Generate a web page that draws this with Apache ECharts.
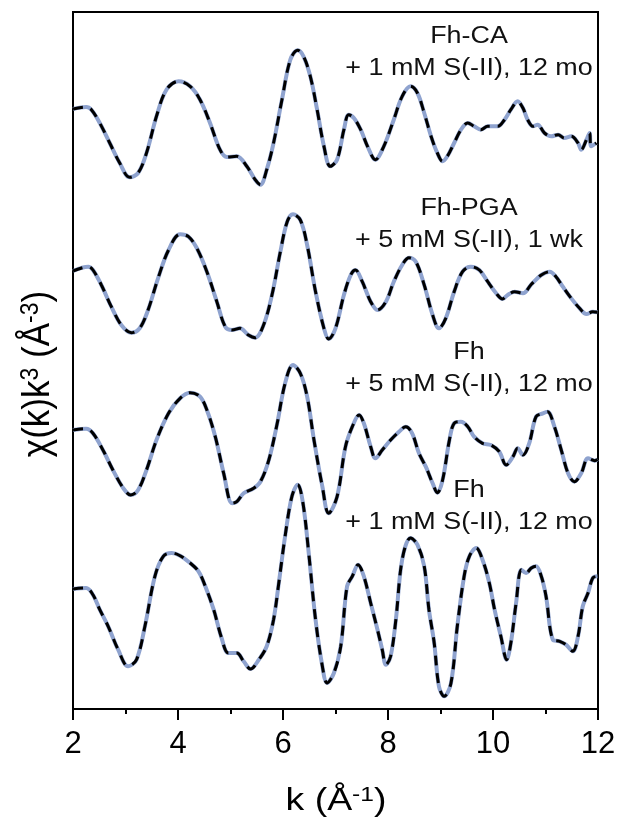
<!DOCTYPE html>
<html>
<head>
<meta charset="utf-8">
<script src="https://cdn.jsdelivr.net/npm/echarts@6/dist/echarts.min.js"></script>
<style>
html,body{margin:0;padding:0;background:#fff;}
#chart{width:619px;height:818px;}
</style>
</head>
<body>
<div id="chart"></div>
<script>
// ---- Data (k in Å^-1, chi(k)k^3 in arbitrary units, relative to each curve's own baseline) ----
const kFhCA = [2.00,2.25,2.35,2.51,2.70,2.89,3.08,3.24,3.40,3.59,3.78,4.01,4.23,4.42,4.61,4.80,4.93,5.12,5.31,5.47,5.57,5.69,5.82,5.98,6.14,6.28,6.39,6.52,6.65,6.78,6.90,7.03,7.16,7.25,7.35,7.48,7.61,7.76,7.92,8.11,8.27,8.43,8.56,8.69,8.82,8.94,9.04,9.13,9.26,9.39,9.52,9.64,9.77,9.90,10.09,10.22,10.34,10.47,10.57,10.66,10.76,10.85,10.98,11.11,11.24,11.36,11.49,11.62,11.68,11.78,11.84,11.87,11.97];
const chiFhCA = [0,0.2,-0.07,-1.4,-3.4,-5.4,-6.83,-6.4,-4.4,-0.73,1.93,2.77,2.27,0.93,-1.4,-4.07,-4.8,-4.73,-5.73,-7.07,-7.57,-6.07,-3.4,0.93,4.93,5.87,5.27,3.27,-0.07,-3.73,-5.73,-5.07,-2.07,-0.57,-0.9,-2.07,-3.73,-5.07,-3.73,-1.07,1.27,2.27,1.6,-0.4,-2.73,-4.4,-5.23,-4.73,-3.4,-2.07,-1.4,-1.73,-2.07,-1.73,-1.73,-1.07,-0.07,0.77,0.1,-1.07,-1.73,-1.57,-2.4,-2.73,-2.57,-2.9,-2.73,-3.4,-4.07,-3.07,-2.4,-3.73,-3.4];

const kFhPGA = [2.00,2.29,2.38,2.54,2.73,2.92,3.11,3.27,3.43,3.62,3.82,4.04,4.20,4.36,4.55,4.74,4.90,5.03,5.18,5.34,5.47,5.63,5.79,5.95,6.08,6.19,6.33,6.46,6.62,6.78,6.87,7.00,7.16,7.29,7.38,7.51,7.67,7.80,7.96,8.11,8.27,8.40,8.53,8.69,8.85,8.97,9.10,9.26,9.42,9.58,9.74,9.90,10.06,10.18,10.28,10.41,10.57,10.73,10.92,11.08,11.20,11.33,11.49,11.65,11.78,11.90,11.99];
const chiFhPGA = [0,0.43,0.1,-1.4,-3.57,-5.4,-6.17,-5.73,-3.9,-0.73,2.1,3.67,3.43,2.27,-0.07,-3.07,-5.57,-5.9,-5.73,-6.4,-6.67,-5.4,-2.4,1.93,4.93,5.67,5.1,2.6,-2.07,-5.73,-6.8,-5.73,-2.4,-0.4,0.1,-1.07,-3.07,-3.9,-3.07,-1.07,0.6,1.33,0.93,-1.4,-4.4,-5.73,-4.73,-2.07,-0.07,0.43,0.1,-1.07,-2.23,-2.8,-2.4,-2.07,-2.23,-1.33,-0.4,-0.07,-0.57,-1.57,-2.73,-3.73,-4.3,-4.07,-4.13];

const kFh5 = [2.00,2.25,2.38,2.57,2.76,2.96,3.10,3.24,3.40,3.59,3.82,4.04,4.23,4.42,4.55,4.71,4.87,5.03,5.12,5.25,5.44,5.57,5.73,5.89,6.04,6.19,6.33,6.46,6.59,6.75,6.87,7.03,7.19,7.32,7.45,7.54,7.67,7.76,7.89,8.05,8.21,8.34,8.46,8.59,8.72,8.85,8.94,9.04,9.17,9.26,9.39,9.52,9.64,9.80,9.96,10.12,10.25,10.38,10.47,10.57,10.69,10.82,10.95,11.04,11.17,11.30,11.43,11.55,11.68,11.81,11.94,11.99];
const chiFh5 = [0,0.13,-0.33,-2.0,-4.0,-5.83,-6.5,-6.0,-4.0,-1.0,1.67,3.17,3.73,3.33,2.0,-0.67,-4.33,-7.33,-7.17,-6.33,-5.83,-5.17,-3.0,0.67,4.67,6.5,5.67,3.33,-1.0,-5.67,-8.33,-6.67,-1.67,0.33,1.5,0.67,-1.67,-2.83,-2.0,-1.0,-0.17,0.33,-0.33,-2.33,-3.67,-5.33,-6.27,-5.0,-1.0,0.67,0.83,0.33,-0.67,-1.33,-1.5,-2.17,-3.5,-2.67,-1.83,-2.5,-1.33,1.33,1.67,1.83,0.33,-2.0,-4.33,-5.17,-4.33,-2.83,-3.07,-2.93];

const kFh1 = [2.00,2.25,2.38,2.51,2.67,2.86,3.05,3.21,3.37,3.56,3.72,3.88,4.04,4.23,4.39,4.52,4.68,4.83,4.96,5.12,5.25,5.38,5.54,5.69,5.82,5.92,6.04,6.17,6.28,6.38,6.49,6.62,6.75,6.84,6.97,7.10,7.22,7.32,7.43,7.54,7.67,7.80,7.89,7.96,8.05,8.15,8.27,8.43,8.56,8.69,8.78,8.88,8.97,9.07,9.20,9.32,9.45,9.55,9.68,9.80,9.93,10.03,10.15,10.26,10.34,10.44,10.54,10.63,10.73,10.82,10.92,11.01,11.14,11.27,11.39,11.52,11.62,11.71,11.81,11.90,11.99];
const chiFh1 = [0,0.1,-0.57,-2.07,-3.73,-6.07,-7.73,-7.07,-3.73,1.27,3.27,3.6,3.33,2.6,1.77,0.27,-2.07,-4.9,-6.4,-6.4,-7.23,-8.0,-7.07,-5.73,-3.07,0.6,5.27,9.27,10.43,8.6,3.6,-3.07,-7.73,-9.4,-8.4,-5.73,0.27,1.27,2.43,1.27,-1.4,-4.07,-6.07,-7.57,-6.73,-3.07,2.93,5.1,4.43,2.27,-2.07,-5.4,-9.73,-10.73,-9.4,-3.73,1.27,3.27,4.1,2.93,0.6,-2.07,-4.73,-7.07,-5.4,-1.4,1.93,1.6,2.1,2.27,1.27,-0.73,-5.07,-5.23,-5.57,-6.23,-4.73,-1.73,-0.4,1.1,1.27];

// vertical stacking offsets for each spectrum
const offsets = [48, 31.8, 15.9, 0];
const sampleNames = ['Fh-CA', 'Fh-PGA', 'Fh', 'Fh'];
const sampleConds = ['+ 1 mM S(-II), 12 mo', '+ 5 mM S(-II), 1 wk', '+ 5 mM S(-II), 12 mo', '+ 1 mM S(-II), 12 mo'];
const xTicks = [2, 4, 6, 8, 10, 12];

const curves = [
  [kFhCA, chiFhCA],
  [kFhPGA, chiFhPGA],
  [kFh5, chiFh5],
  [kFh1, chiFh1]
];

const FONT = 'Liberation Sans, Arial, sans-serif';
const chart = echarts.init(document.getElementById('chart'), null, {renderer: 'canvas'});

const series = [];
curves.forEach((c, i) => {
  const pts = c[0].map((k, j) => [k, c[1][j] + offsets[i]]);
  series.push({
    name: sampleNames[i] + ' fit', type: 'line', data: pts, showSymbol: false, smooth: 0.35,
    lineStyle: {color: '#8fa3cf', width: 4}, z: 2, silent: true
  });
  series.push({
    name: sampleNames[i] + ' data', type: 'line', data: pts, showSymbol: false, smooth: 0.35,
    lineStyle: {color: '#000', width: 3, type: [10, 8]}, z: 3, silent: true
  });
});

const labelY = [52.5, 224.5, 368.5, 506.5];
const graphics = sampleNames.map((n, i) => ({
  type: 'text', x: 469, y: labelY[i], z: 10, scaleX: 1.17,
  style: {
    text: n + '\n' + sampleConds[i],
    fontFamily: FONT, fontSize: 23, lineHeight: 32,
    fill: '#111', textAlign: 'center', textVerticalAlign: 'middle'
  }
}));
// x-axis title
graphics.push({
  type: 'text', x: 336, y: 801, z: 10, scaleX: 1.17,
  style: {
    text: '{a|k (Å}{s|-1}{a|)}',
    textAlign: 'center', textVerticalAlign: 'middle',
    rich: {
      a: {fontSize: 32, fill: '#000', fontFamily: FONT, verticalAlign: 'bottom'},
      s: {fontSize: 21, fill: '#000', fontFamily: FONT, verticalAlign: 'top'}
    }
  }
});
// y-axis title (rotated)
graphics.push({
  type: 'text', x: 38, y: 374, z: 10, rotation: Math.PI / 2, scaleY: 1.1,
  style: {
    text: '{a|χ(k)k}{s|3}{a| (Å}{s|-3}{a|)}',
    textAlign: 'center', textVerticalAlign: 'middle',
    rich: {
      a: {fontSize: 35, fill: '#000', fontFamily: FONT, verticalAlign: 'bottom'},
      s: {fontSize: 23, fill: '#000', fontFamily: FONT, verticalAlign: 'top'}
    }
  }
});

chart.setOption({
  animation: false,
  backgroundColor: '#fff',
  grid: {left: 73, right: 21, top: 12, bottom: 109, show: true, borderColor: '#000', borderWidth: 2, backgroundColor: 'transparent'},
  xAxis: {
    type: 'value', min: 2, max: 12, interval: 2,
    axisLine: {show: true, onZero: false, lineStyle: {color: '#000', width: 2}},
    axisTick: {show: true, inside: false, length: 11, lineStyle: {color: '#000', width: 2}},
    minorTick: {show: true, splitNumber: 2, length: 5, lineStyle: {color: '#000', width: 2}},
    splitLine: {show: false},
    axisLabel: {
      fontSize: 31, color: '#000', margin: 20, fontFamily: FONT,
      formatter: v => xTicks.indexOf(v) >= 0 ? String(v) : ''
    }
  },
  yAxis: {
    type: 'value', min: -12, max: 57.7,
    axisLine: {show: true, onZero: false, lineStyle: {color: '#000', width: 2}},
    axisTick: {show: false}, axisLabel: {show: false}, splitLine: {show: false}
  },
  graphic: graphics,
  series: series
});
</script>
</body>
</html>
